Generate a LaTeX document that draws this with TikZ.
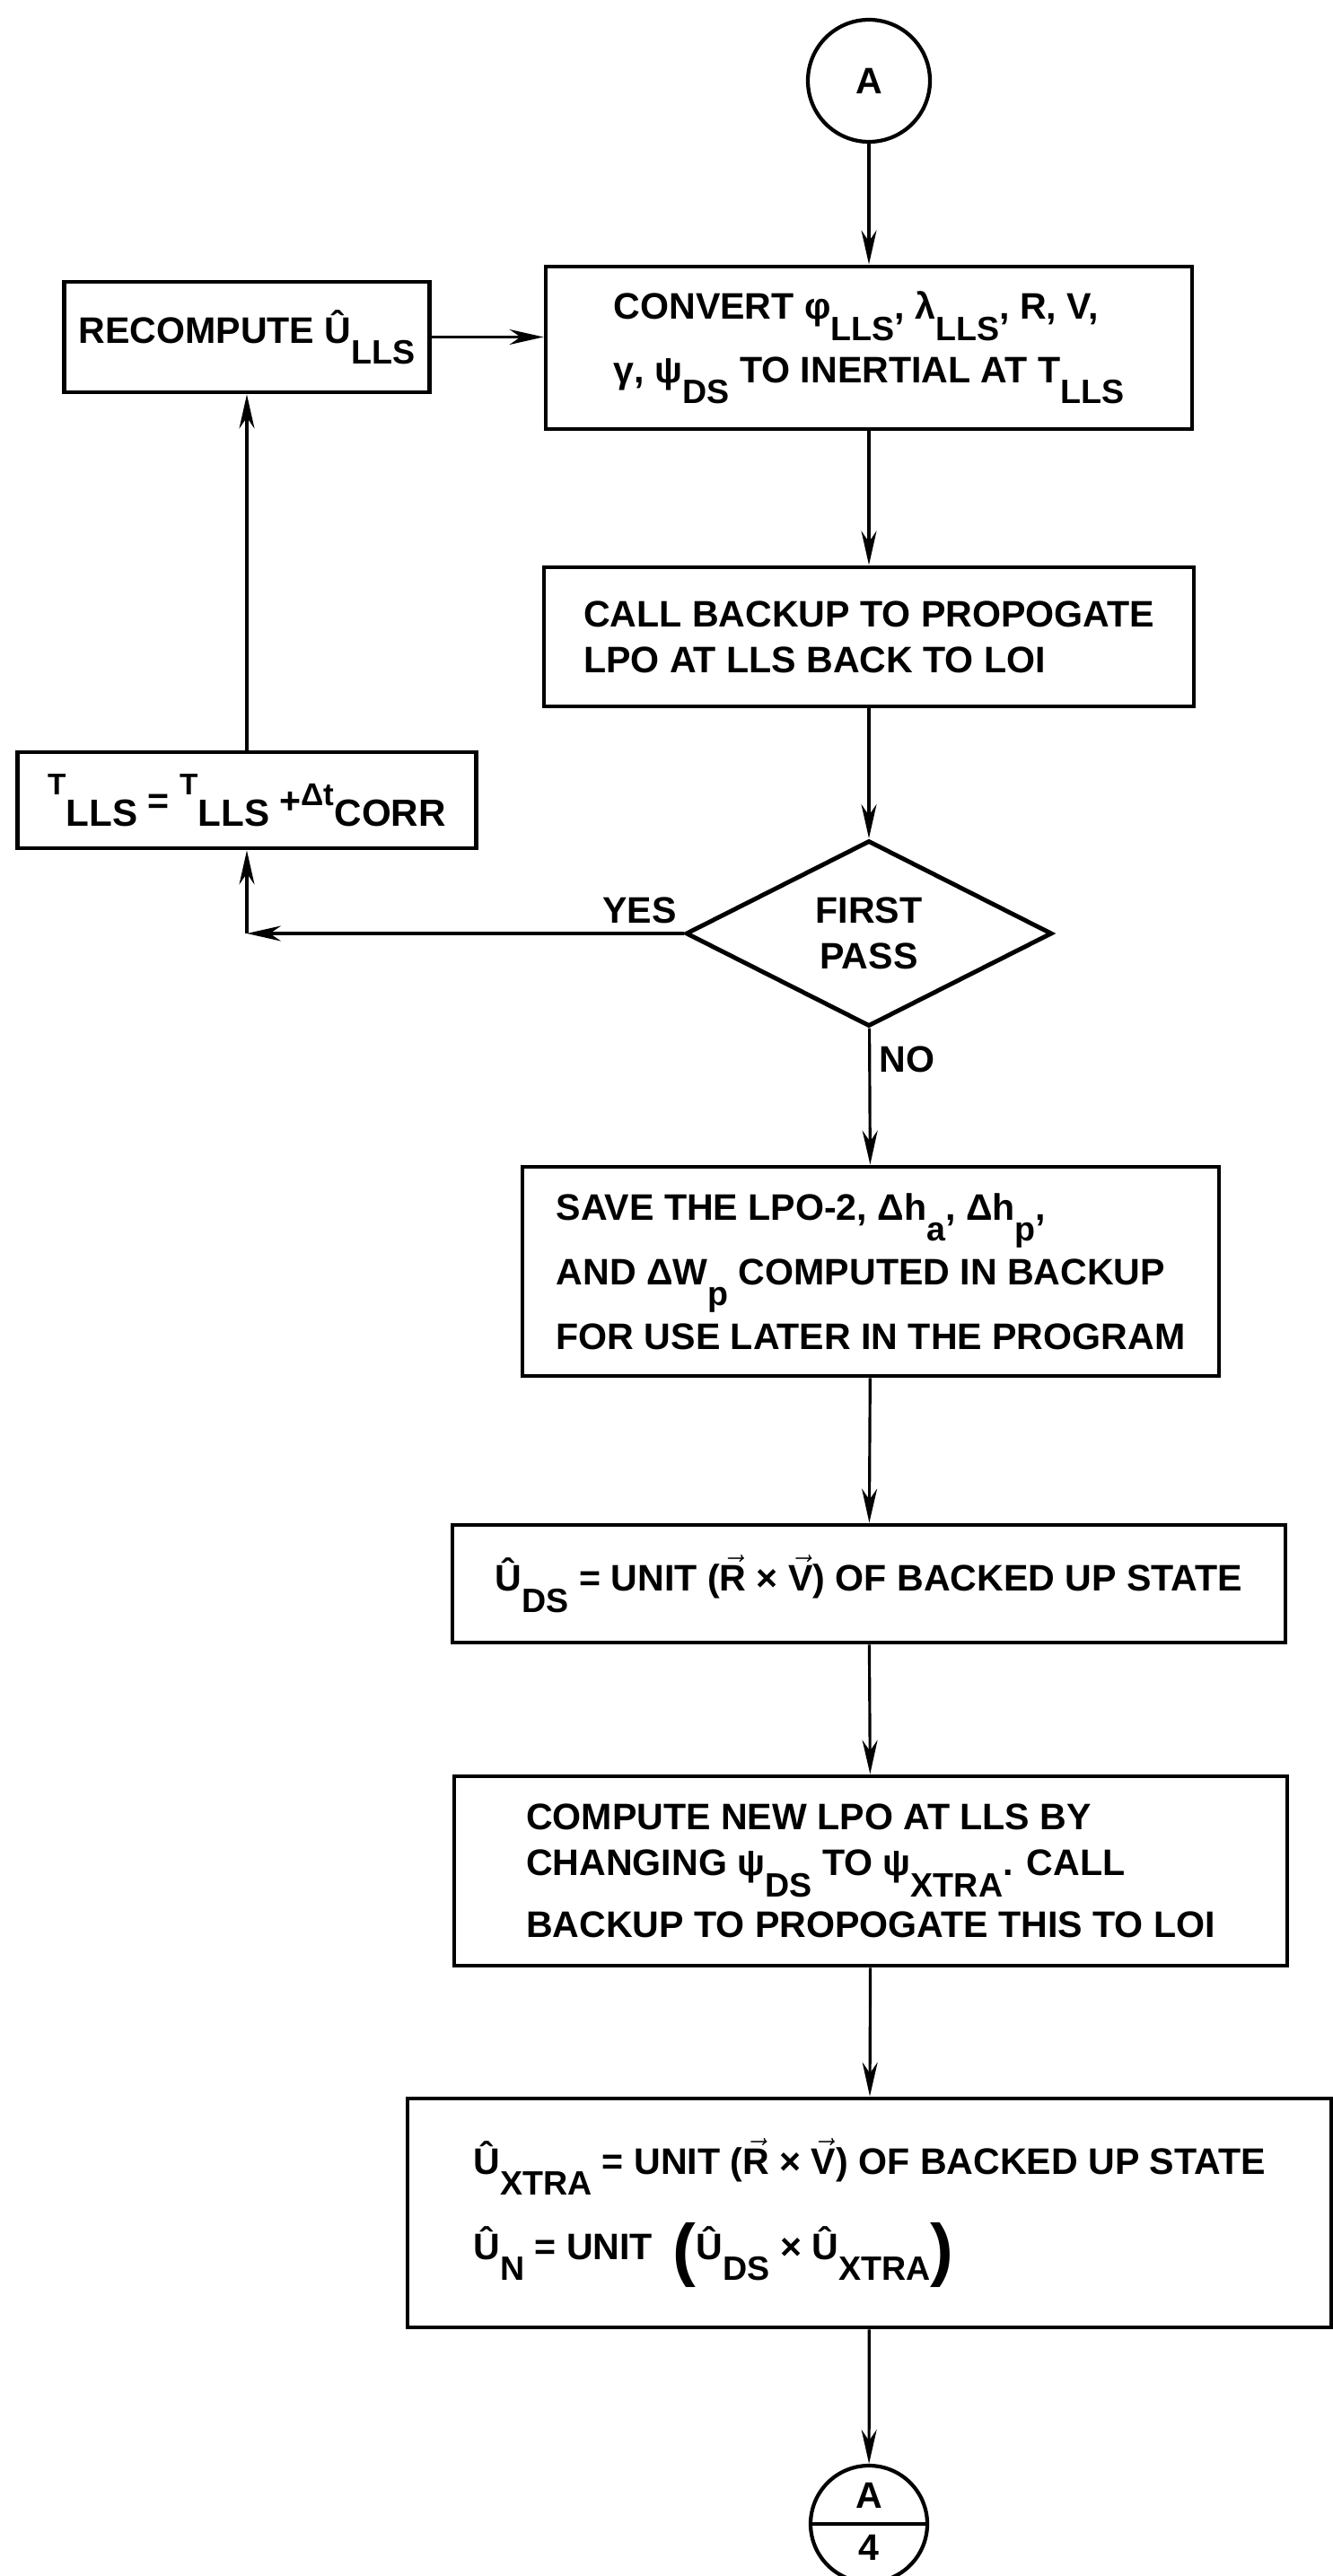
\documentclass[tikz,border=0pt]{standalone}
\usepackage{fontspec}
\setmainfont{Liberation Sans}
\usepackage{amsmath}
\usetikzlibrary{arrows.meta,shapes.geometric,positioning}

\newcommand{\lo}[1]{\raisebox{-6.6pt}{\fontsize{10.7}{10.7}\selectfont #1}}
\newcommand{\bigp}[1]{\raisebox{-4.3pt}{\fontsize{22}{22}\selectfont #1}}
\newcommand{\vr}[1]{$\vec{\text{\bfseries #1}}$}

\tikzset{
    blk/.style={draw, line width=1.4pt, align=left, inner sep=0pt,
        font=\fontsize{11.7}{14.5}\selectfont\bfseries},
    txt/.style={font=\fontsize{11.7}{14.5}\selectfont\bfseries, inner sep=0pt},
    flow/.style={line width=0.9pt, -{Stealth[length=3.8mm,width=1.7mm]}}
}

\begin{document}
\setlength{\lineskiplimit}{-100pt}
\begin{tikzpicture}
        \useasboundingbox (0,0) rectangle (14.84,-28.70);

        \node (conA) at (9.68,-0.90) [circle, draw, line width=1.2pt, minimum size=1.36cm, txt] {A};

        \node (recomp) at (2.75,-3.755) [blk, minimum width=4.07cm, minimum height=1.23cm]
            {RECOMPUTE Û\lo{LLS}};
        \node (conv) at (9.68,-3.875) [blk, minimum width=7.20cm, minimum height=1.81cm]
            {CONVERT φ\lo{LLS}, λ\lo{LLS}, R, V,\\[5.6pt]
             γ, ψ\lo{DS} TO INERTIAL AT T\lo{LLS}};
        \node (bkup) at (9.68,-7.095) [blk, minimum width=7.24cm, minimum height=1.55cm]
            {CALL BACKUP TO PROPOGATE\\LPO AT LLS BACK TO LOI};
        \node (tcorr) at (2.75,-8.915) [blk, minimum width=5.11cm, minimum height=1.07cm]
            {\raisebox{6pt}{\fontsize{9.5}{9.5}\selectfont T}\raisebox{-4pt}{\fontsize{12}{12}\selectfont LLS}
             = \raisebox{6pt}{\fontsize{9.5}{9.5}\selectfont T}\raisebox{-4pt}{\fontsize{12}{12}\selectfont LLS}
             +\raisebox{2.5pt}{\fontsize{10}{10}\selectfont Δt}\raisebox{-4pt}{\fontsize{12}{12}\selectfont CORR}};
        \node (fpass) at (9.68,-10.40) [diamond, draw, line width=1.4pt, minimum width=4.08cm,
            minimum height=2.07cm, align=center, txt] {FIRST\\PASS};
        \coordinate (yc) at (tcorr.south |- fpass.west);
        \node (yes) [txt, above left=0.10cm and 0.07cm of fpass.west] {YES};
        \node (no) [txt, below right=0.19cm and 0.11cm of fpass.south] {NO};

        \node (save) at (9.70,-14.165) [blk, minimum width=7.76cm, minimum height=2.33cm]
            {SAVE THE LPO-2, Δh\lo{a}, Δh\lo{p},\\[6pt]
             AND ΔW\lo{p} COMPUTED IN BACKUP\\[6pt]
             FOR USE LATER IN THE PROGRAM};
        \node (uds) at (9.68,-17.645) [blk, minimum width=9.28cm, minimum height=1.31cm]
            {Û\lo{DS} = UNIT (\vr{R} × \vr{V}) OF BACKED UP STATE};
        \node (newlpo) at (9.70,-20.845) [blk, minimum width=9.28cm, minimum height=2.11cm]
            {COMPUTE NEW LPO AT LLS BY\\
             CHANGING ψ\lo{DS} TO ψ\lo{XTRA}. CALL\\[5pt]
             BACKUP TO PROPOGATE THIS TO LOI};
        \node (uxtra) at (9.685,-24.655) [blk, minimum width=10.29cm, minimum height=2.55cm]
            {Û\lo{XTRA} = UNIT (\vr{R} × \vr{V}) OF BACKED UP STATE\\[12.5pt]
             Û\lo{N} = UNIT \ \bigp{(}Û\lo{DS} × Û\lo{XTRA}\bigp{)}};

        \node (conA4) at (9.68,-28.12) [circle, draw, line width=1.2pt, minimum size=1.30cm] {};
        \draw[line width=1.2pt] (conA4.west) -- (conA4.east);
        \node (a4top) [txt, above=0.17cm of conA4.center] {A};
        \node (a4bot) [txt, below=0.11cm of conA4.center] {4};

        \draw[flow] (conA) -- (conv);
        \draw[flow] (recomp.east) -- (recomp.east -| conv.west);
        \draw[flow] (conv) -- (bkup);
        \draw[flow] (bkup) -- (fpass);
        \draw[flow] (fpass.west) -- (yc);
        \draw[flow] (yc) -- (tcorr);
        \draw[flow] (tcorr) -- (recomp);
        \draw[flow] (fpass) -- (save);
        \draw[flow] (save) -- (uds);
        \draw[flow] (uds) -- (newlpo);
        \draw[flow] (newlpo) -- (uxtra);
        \draw[flow] (uxtra) -- (conA4);
\end{tikzpicture}
\end{document}
